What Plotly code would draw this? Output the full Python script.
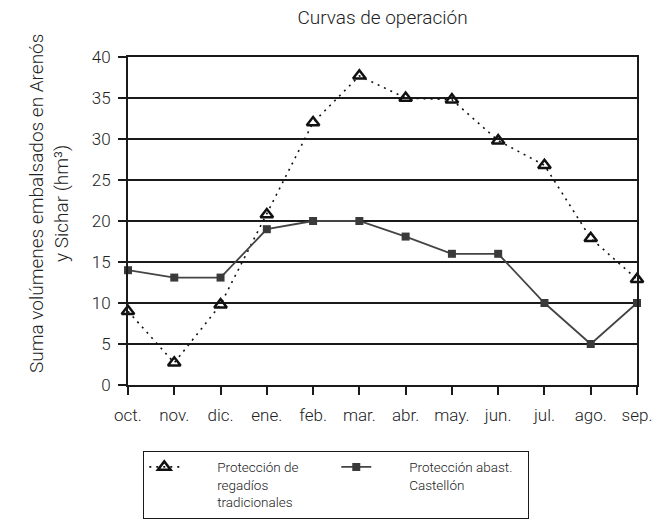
import plotly.graph_objects as go

months = ['oct.', 'nov.', 'dic.', 'ene.', 'feb.', 'mar.',
          'abr.', 'may.', 'jun.', 'jul.', 'ago.', 'sep.']
regadios = [9, 2.7, 9.8, 20.8, 32, 37.7, 35, 34.8, 29.8, 26.8, 17.9, 12.9]
castellon = [14, 13.1, 13.1, 19, 20, 20, 18.1, 16, 16, 10, 5, 10]

FONT = 'Roboto, Liberation Sans, Arial, sans-serif'
TXT = '#222222'
PAD = '\u00a0' * 10


def legend_name(lines):
    # push legend text a bit further from the symbol, like the original
    return '<br>'.join(PAD + s for s in lines)


fig = go.Figure()

fig.add_trace(go.Scatter(
    x=months, y=regadios,
    name=legend_name(['Protección de', 'regadíos', 'tradicionales']),
    mode='lines+markers',
    line=dict(color='#111111', width=1.6, dash='2px,5px'),
    marker=dict(symbol='triangle-up-open', size=11, color='#111111',
                line=dict(width=2.5, color='#111111')),
    cliponaxis=False,
))

fig.add_trace(go.Scatter(
    x=months, y=castellon,
    name=legend_name(['Protección abast.', 'Castellón']),
    mode='lines+markers',
    line=dict(color='#444444', width=1.8),
    marker=dict(symbol='square', size=8, color='#3a3a3a'),
    cliponaxis=False,
))

fig.update_xaxes(type='category',
                 range=[0, 11],
                 showline=True, linecolor='#1a1a1a', linewidth=2,
                 mirror=True,
                 ticks='outside', ticklen=8, tickwidth=2, tickcolor='#1a1a1a',
                 ticklabelstandoff=6,
                 showgrid=False,
                 tickfont=dict(family=FONT, size=17, color=TXT, weight=300))

fig.update_yaxes(range=[0, 40],
                 tick0=0, dtick=5,
                 showline=True, linecolor='#1a1a1a', linewidth=2,
                 mirror=True,
                 ticks='outside', ticklen=8, tickwidth=2, tickcolor='#1a1a1a',
                 ticklabelstandoff=4,
                 showgrid=True, gridcolor='#1a1a1a', gridwidth=2,
                 zeroline=False,
                 tickfont=dict(family=FONT, size=17, color=TXT, weight=300))

fig.add_annotation(
    text='Suma volúmenes embalsados en Arenós<br>y Sichar (hm³)',
    xref='paper', yref='paper', x=-0.155, y=0.552,
    xanchor='center', yanchor='middle',
    textangle=-90, showarrow=False, align='center',
    font=dict(family=FONT, size=19, color=TXT, weight=300))

fig.update_layout(
    width=661, height=523,
    margin=dict(l=128, r=24, t=57, b=138, autoexpand=False),
    plot_bgcolor='white', paper_bgcolor='white',
    title=dict(text='Curvas de operación', x=0.5, xref='paper',
               y=0.967, yanchor='middle',
               font=dict(family=FONT, size=19, color=TXT, weight=300)),
    legend=dict(orientation='h', x=0.03, xanchor='left',
                y=-0.2, yanchor='top',
                entrywidth=147, valign='top',
                bordercolor='#1a1a1a', borderwidth=1,
                font=dict(family=FONT, size=13.5, color=TXT, weight=300)),
    showlegend=True,
)

fig.write_html('out.html', config={'displayModeBar': False},
               post_script="document.body.style.margin='0';")
